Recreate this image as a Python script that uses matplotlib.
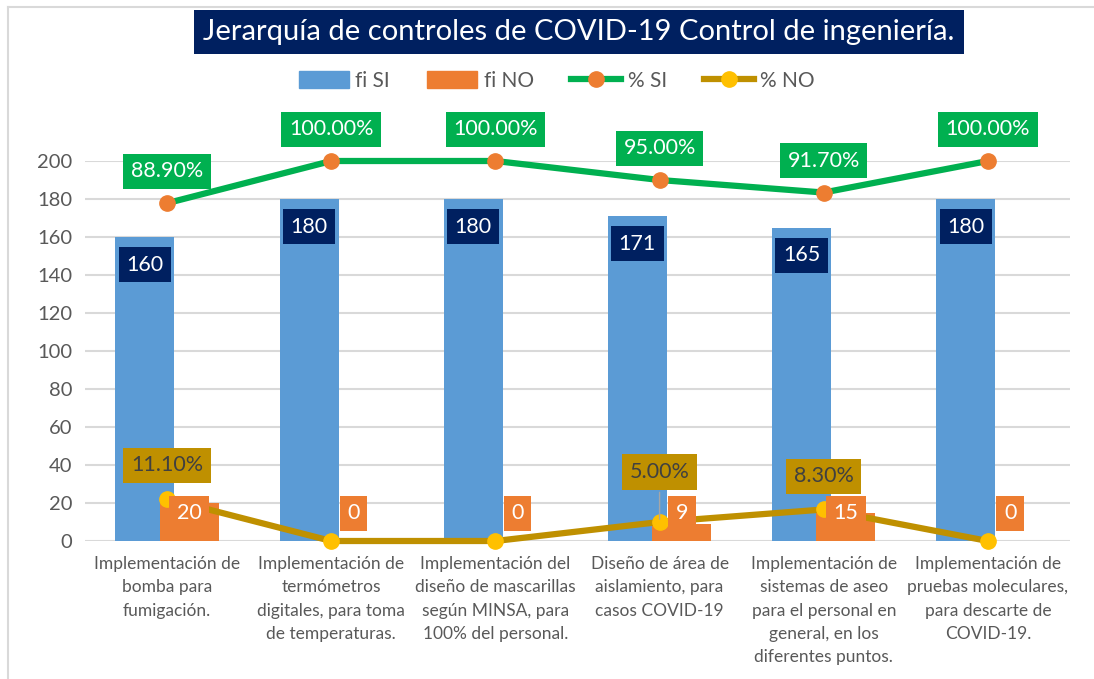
import matplotlib
matplotlib.use("Agg")
import matplotlib.pyplot as plt
from matplotlib.lines import Line2D
from matplotlib.patches import Patch
import numpy as np

# datos
categorias = ["Implementación de\nbomba para\nfumigación.",
              "Implementación de\ntermómetros\ndigitales, para toma\nde temperaturas.",
              "Implementación del\ndiseño de mascarillas\nsegún MINSA, para\n100% del personal.",
              "Diseño de área de\naislamiento, para\ncasos COVID-19",
              "Implementación de\nsistemas de aseo\npara el personal en\ngeneral, en los\ndiferentes puntos.",
              "Implementación de\npruebas moleculares,\npara descarte de\nCOVID-19."]
fi_si = [160, 180, 180, 171, 165, 180]
fi_no = [20, 0, 0, 9, 15, 0]
pct_si = [88.9, 100, 100, 95, 91.7, 100]
pct_no = [11.1, 0, 0, 5, 8.3, 0]

azul = "#5B9BD5"
naranja = "#ED7D31"
verde = "#00B050"
dorado = "#BF9000"
amarillo = "#FFC000"
navy = "#002060"
gris = "#595959"

plt.rcParams['font.family'] = ['Lato', 'DejaVu Sans']

W, H = 1094, 679
fig = plt.figure(figsize=(W / 100, H / 100), dpi=100)
# borde del grafico (solo izquierda y arriba visibles)
fig.lines.append(Line2D([8 / W, 8 / W], [-0.1, 1 - 7 / H], transform=fig.transFigure,
                        color="#D9D9D9", lw=1.5))
fig.lines.append(Line2D([8 / W, 1.1], [1 - 7 / H, 1 - 7 / H], transform=fig.transFigure,
                        color="#D9D9D9", lw=1.5))

ax = fig.add_axes([85 / W, 1 - 541 / H, (1070 - 85) / W, (541 - 161) / H])
x = np.arange(len(categorias))
ancho = 0.36
ax.bar(x - 0.135, fi_si, ancho, color=azul, zorder=2)
ax.bar(x + 0.135, fi_no, ancho, color=naranja, zorder=2)
ax.set_xlim(-0.5, len(categorias) - 0.5)
ax.set_ylim(0, 200)
ax.set_yticks(range(0, 201, 20))
ax.grid(axis="y", color="#D9D9D9", lw=1.5, zorder=0)
ax.set_axisbelow(True)
for s in ax.spines.values():
    s.set_visible(False)
ax.tick_params(axis="both", length=0, colors=gris, labelsize=14.5)
ax.tick_params(axis="y", pad=9)
ax.set_xticks(x)
ax.set_xticklabels(categorias, fontsize=12.5, linespacing=1.55, color=gris)
ax.tick_params(axis="x", pad=11)

ax2 = ax.twinx()
ax2.set_ylim(0, 100)
ax2.axis("off")
ax2.plot(x, pct_si, color=verde, lw=4.5, marker="o", ms=11, mfc=naranja, mec=naranja,
         clip_on=False, zorder=3)
ax2.plot(x, pct_no, color=dorado, lw=4.5, marker="o", ms=11, mfc=amarillo, mec=amarillo,
         clip_on=False, zorder=3)

# etiquetas
for i, v in enumerate(fi_si):
    ax2.annotate(str(v), (x[i] - 0.135, v), xycoords=ax.transData, xytext=(0, -20),
                 textcoords="offset points", ha="center", va="center", color="white",
                 fontsize=15.5, bbox=dict(boxstyle="square,pad=0.35", fc=navy, ec="none"),
                 zorder=5)
for i, v in enumerate(fi_no):
    ax2.annotate(str(v), (x[i] + 0.135, 0), xycoords=ax.transData, xytext=(0, 20),
                 textcoords="offset points", ha="center", va="center", color="white",
                 fontsize=15.5, bbox=dict(boxstyle="square,pad=0.35", fc=naranja, ec="none"),
                 zorder=5)
for i, v in enumerate(pct_si):
    ax2.annotate(f"{v:.2f}%", (x[i], v), xytext=(0, 23), textcoords="offset points",
                 ha="center", va="center", color="white", fontsize=15.5,
                 bbox=dict(boxstyle="square,pad=0.35", fc=verde, ec="none"), zorder=5)
for i, v in enumerate(pct_no):
    if v == 0:
        continue
    dy = 36 if v == 5 else 24
    ax2.annotate(f"{v:.2f}%", (x[i], v), xytext=(0, dy), textcoords="offset points",
                 ha="center", va="center", color="#404040", fontsize=15.5,
                 bbox=dict(boxstyle="square,pad=0.35", fc=dorado, ec="none"),
                 arrowprops=dict(arrowstyle="-", color="#A6A6A6", lw=1) if v == 5 else None,
                 zorder=4)

fig.text(579 / W, 1 - 32 / H, "Jerarquía de controles de COVID-19 Control de ingeniería.",
         ha="center", va="center", color="white", fontsize=21,
         bbox=dict(boxstyle="square,pad=0.32", fc=navy, ec="none"))

handles = [Patch(color=azul), Patch(color=naranja),
           Line2D([], [], color=verde, lw=4.5, marker="o", ms=11, mfc=naranja, mec=naranja),
           Line2D([], [], color=dorado, lw=4.5, marker="o", ms=11, mfc=amarillo, mec=amarillo)]
fig.legend(handles, ["fi SI", "fi NO", "% SI", "% NO"], loc="center",
           bbox_to_anchor=(557 / W, 1 - 81 / H), ncol=4, frameon=False, fontsize=15,
           labelcolor=gris, handlelength=2.4, handleheight=0.9, columnspacing=1.8,
           handletextpad=0.3)

fig.savefig("out.png", dpi=100)
